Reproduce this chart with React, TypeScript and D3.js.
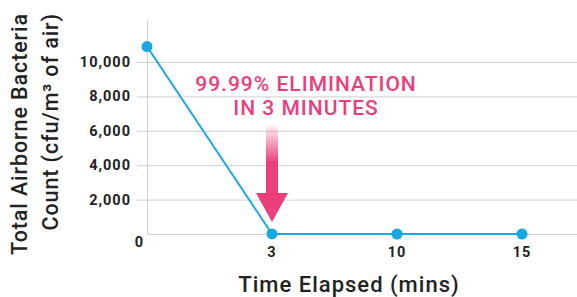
import { useEffect, useRef } from "react"
import * as d3 from "d3"

const times = ["0", "3", "10", "15"]
const counts = [10900, 1, 0.5, 0.3]
const yTicks = [2000, 4000, 6000, 8000, 10000]
const annotation = ["99.99% ELIMINATION", "IN 3 MINUTES"]
const yTitle = ["Total Airborne Bacteria", "Count (cfu/m³ of air)"]

export default function App() {
  const svgRef = useRef<SVGSVGElement>(null)

  useEffect(() => {
    if (!svgRef.current) return
    d3.select(svgRef.current).selectAll("*").remove()

    const width = 577
    const height = 297
    const font = "Roboto, 'DejaVu Sans', sans-serif"
    const blue = "#1aa8e4"
    const pink = "#ec3d7c"

    const svg = d3
      .select(svgRef.current)
      .attr("width", width)
      .attr("height", height)
      .style("position", "absolute")
      .style("left", 0)
      .style("top", 0)
      .style("font-family", font)

    const x = d3.scalePoint<string>().domain(times).range([147, 522])
    const y = d3.scaleLinear().domain([0, 10000]).range([234, 62])

    // gradient for the arrow
    const grad = svg
      .append("defs")
      .append("linearGradient")
      .attr("id", "arrowFade")
      .attr("x1", 0)
      .attr("y1", 0)
      .attr("x2", 0)
      .attr("y2", 1)
    grad.append("stop").attr("offset", "0%").attr("stop-color", pink).attr("stop-opacity", 0)
    grad.append("stop").attr("offset", "40%").attr("stop-color", pink).attr("stop-opacity", 1)
    grad.append("stop").attr("offset", "100%").attr("stop-color", pink).attr("stop-opacity", 1)

    // gridlines
    svg
      .selectAll(".grid")
      .data(yTicks)
      .enter()
      .append("line")
      .attr("x1", 137)
      .attr("x2", width)
      .attr("y1", (d) => y(d) + 0.5)
      .attr("y2", (d) => y(d) + 0.5)
      .attr("stroke", "#d0d0d0")
      .attr("stroke-width", 1)

    // axes
    svg
      .append("line")
      .attr("x1", 147.5)
      .attr("x2", 147.5)
      .attr("y1", 20)
      .attr("y2", y(0))
      .attr("stroke", "#d0d0d0")
    svg
      .append("line")
      .attr("x1", 147)
      .attr("x2", width)
      .attr("y1", y(0) + 0.5)
      .attr("y2", y(0) + 0.5)
      .attr("stroke", "#d0d0d0")

    // x tick marks
    svg
      .selectAll(".xtick")
      .data(times.slice(1))
      .enter()
      .append("line")
      .attr("x1", (d) => (x(d) || 0) + 0.5)
      .attr("x2", (d) => (x(d) || 0) + 0.5)
      .attr("y1", y(0))
      .attr("y2", y(0) + 5)
      .attr("stroke", "#d0d0d0")

    // y tick labels
    svg
      .selectAll(".ylabel")
      .data(yTicks)
      .enter()
      .append("text")
      .attr("x", 131)
      .attr("y", (d) => y(d) + 5)
      .attr("text-anchor", "end")
      .style("font-size", "14.5px")
      .style("font-weight", 700)
      .style("letter-spacing", "1px")
      .style("fill", "#222")
      .text((d) => d3.format(",")(d))

    svg
      .append("text")
      .attr("x", 139)
      .attr("y", y(0) + 13)
      .attr("text-anchor", "middle")
      .style("font-size", "14.5px")
      .style("font-weight", 700)
      .style("fill", "#222")
      .text("0")

    // x tick labels
    svg
      .selectAll(".xlabel")
      .data(times.slice(1))
      .enter()
      .append("text")
      .attr("x", (d) => x(d) || 0)
      .attr("y", y(0) + 23)
      .attr("text-anchor", "middle")
      .style("font-size", "14.5px")
      .style("font-weight", 700)
      .style("letter-spacing", "1px")
      .style("fill", "#222")
      .text((d) => d)

    // line
    const line = d3
      .line<number>()
      .x((_, i) => x(times[i]) || 0)
      .y((d) => y(d))
    svg
      .append("path")
      .datum(counts)
      .attr("d", line)
      .attr("fill", "none")
      .attr("stroke", blue)
      .attr("stroke-width", 2)

    svg
      .selectAll(".dot")
      .data(counts)
      .enter()
      .append("circle")
      .attr("cx", (_, i) => x(times[i]) || 0)
      .attr("cy", (d) => y(d))
      .attr("r", 5.5)
      .attr("fill", blue)

    // arrow pointing at the 3 minute mark
    const ax = x("3") || 0
    const tip = y(counts[1]) - 12
    svg
      .append("path")
      .attr(
        "d",
        `M${ax - 6},123 L${ax + 6},123 L${ax + 6},${tip - 29} L${ax + 16},${tip - 29} L${ax},${tip} L${ax - 16},${tip - 29} L${ax - 6},${tip - 29} Z`
      )
      .attr("fill", "url(#arrowFade)")

    // annotation text
    svg
      .selectAll(".anno")
      .data(annotation)
      .enter()
      .append("text")
      .attr("x", 306)
      .attr("y", (_, i) => 91 + i * 24)
      .attr("text-anchor", "middle")
      .style("font-size", "21px")
      .style("font-weight", 500)
      .style("letter-spacing", "1px")
      .style("fill", pink)
      .text((d) => d)

    // axis titles
    svg
      .append("text")
      .attr("x", 349)
      .attr("y", 292)
      .attr("text-anchor", "middle")
      .style("font-size", "22px")
      .style("font-weight", 500)
      .style("letter-spacing", "1px")
      .style("fill", "#222")
      .text("Time Elapsed (mins)")

    svg
      .selectAll(".ytitle")
      .data(yTitle)
      .enter()
      .append("text")
      .attr("transform", (_, i) => `translate(${27 + i * 31},13) rotate(-90)`)
      .attr("text-anchor", "end")
      .style("font-size", "21.5px")
      .style("font-weight", 500)
      .style("letter-spacing", "0.9px")
      .style("fill", "#222")
      .text((d) => d)
  }, [])

  return <svg ref={svgRef}></svg>
}
